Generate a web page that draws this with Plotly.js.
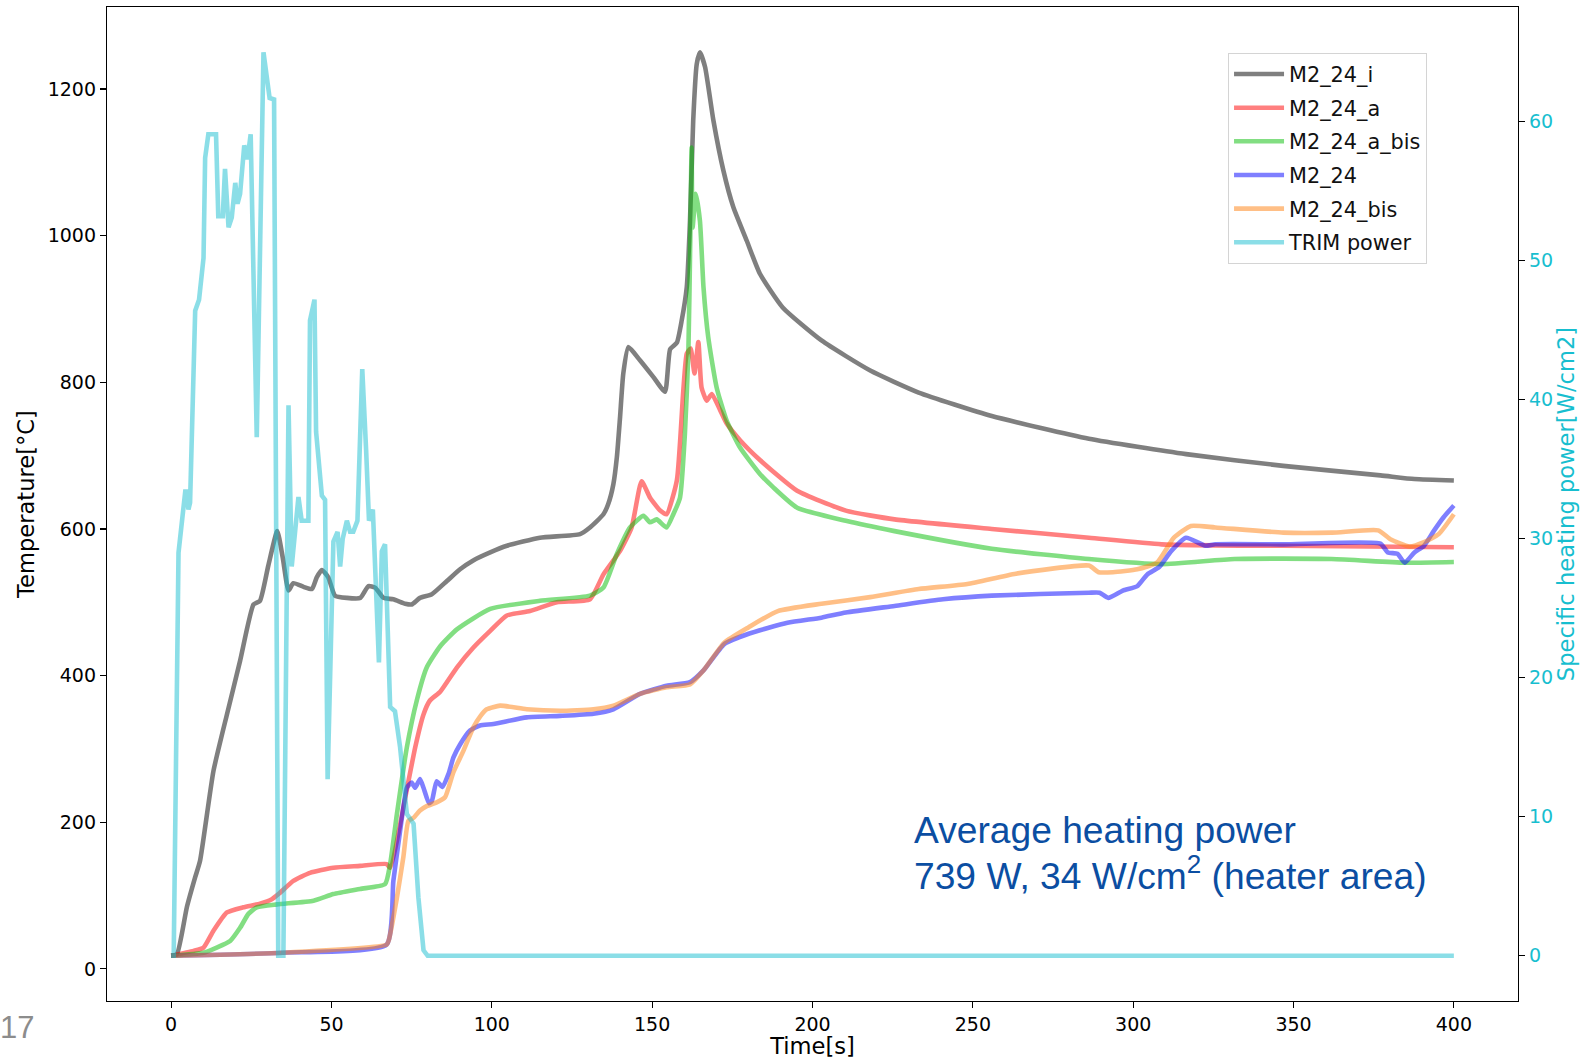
<!DOCTYPE html>
<html>
<head>
<meta charset="utf-8">
<script src="https://cdn.plot.ly/plotly-3.0.1.min.js"></script>
<style>html,body{margin:0;padding:0;background:#fff;}#chart{width:1581px;height:1059px;}</style>
</head>
<body>
<div id="chart"></div>
<script>
// ---- data ----
const seriesNames = ["M2_24_i", "M2_24_a", "M2_24_a_bis", "M2_24", "M2_24_bis", "TRIM power"];

const tI = [0, 1.8, 4.9, 7.5, 9.0, 13.2, 17.4, 21.5, 25.7, 27.7, 30.3, 33.1, 34.8, 36.6, 38.1, 41.3, 43.9, 45.4, 47.0, 49.0, 51.1, 54.8, 59.0, 61.5, 63.6, 66.2, 69.3, 73.0, 75.0, 77.6, 81.3, 86.0, 90.1, 94.2, 99.5, 104.7, 115, 127.5, 130.6, 134.8, 136.3, 137.9, 139.0, 140.0, 141.0, 142.6, 146.2, 150.4, 154.0, 155.6, 157.7, 159.2, 160.8, 161.8, 162.8, 163.9, 164.9, 166.5, 169.1, 172.2, 175.3, 179.5, 183.6, 190.7, 202.8, 218, 233.1, 255.9, 286.2, 316.5, 346.8, 377.1, 387.7, 400];
const vI = [18, 20, 84, 125, 147, 270, 347, 420, 497, 502, 550, 597, 561, 516, 526, 521, 518, 534, 544, 534, 509, 506, 506, 522, 520, 506, 504, 498, 497, 506, 511, 529, 545, 557, 568, 577, 588, 593, 602, 620, 634, 661, 698, 753, 812, 848, 830, 807, 787, 845, 854, 884, 930, 1020, 1157, 1234, 1250, 1230, 1157, 1089, 1039, 993, 948, 902, 857, 816, 786, 754, 723, 702, 686, 673, 668, 666];

const tA = [0, 7.0, 10.1, 13.2, 17.4, 22.5, 27.7, 31.4, 34.0, 38.1, 43.3, 50.6, 58.9, 67.2, 68.3, 74.0, 76.1, 78.7, 80.7, 83.9, 89.1, 94.2, 99.5, 104.7, 111.9, 120.3, 130.6, 134.8, 140.0, 143.6, 146.7, 149.3, 152.5, 154.5, 157.7, 159.7, 160.8, 162.0, 163.2, 164.4, 165.4, 167.0, 168.6, 171.2, 173.2, 177.4, 183.6, 195.2, 210.4, 225.6, 255.9, 286.2, 308.9, 346.8, 400];
const vA = [18, 24.6, 29, 52, 77, 84, 89, 95, 104, 120, 131, 138, 140.5, 143, 138, 256, 302, 347, 366, 378, 411, 438, 461, 482, 488, 500, 504, 538, 570, 602, 665, 643, 625, 620, 666, 788, 839, 846, 812, 855, 793, 775, 784, 762, 744, 721, 694, 652, 625, 613, 600, 588, 579, 577, 575];

const tAb = [0, 10.1, 14.2, 18.4, 21.5, 24.1, 26.7, 33.0, 44.4, 50.6, 58.9, 66.7, 68.3, 70.4, 73.5, 76.6, 79.7, 83.9, 89.1, 99.5, 115, 130.6, 134.8, 139.0, 143.1, 147.3, 149.3, 151.4, 154.5, 156.6, 158.7, 160.2, 161.3, 161.9, 162.3, 162.6, 163.6, 164.9, 166.0, 167.5, 170.1, 173.2, 177.4, 183.6, 187.7, 195.2, 210.4, 225.6, 255.9, 286.2, 308.9, 331.6, 361.9, 384.7, 400];
const vAb = [18, 22, 29, 38, 56, 75, 84, 88, 93, 102, 109, 115.5, 143, 211, 302, 366, 411, 440, 463, 491, 502, 509, 520, 566, 602, 618, 609, 613, 602, 620, 643, 729, 843, 1000, 1120, 1011, 1057, 1020, 930, 861, 793, 748, 711, 675, 657, 629, 611, 597, 573, 559, 552, 559, 559, 554, 555];

const tM = [0, 34.8, 67.2, 69.3, 71.4, 73.5, 75.0, 76.1, 77.6, 78.7, 80.4, 81.3, 82.8, 84.6, 86.5, 88.0, 90.1, 93.2, 96.3, 100.5, 110.9, 121.3, 131.7, 137.9, 146.2, 154.5, 161.8, 166.0, 172.5, 180.1, 192.2, 202.8, 210.4, 225.6, 240.7, 255.9, 286.2, 289.5, 292.2, 296.8, 301.3, 304.4, 308.1, 311.9, 316.5, 322.5, 325.6, 346.8, 377.1, 379.4, 382.4, 384.7, 387.7, 390.7, 393.7, 396.8, 400];
const vM = [18, 22, 33, 120, 188, 247, 254, 247, 259, 247, 226, 229, 256, 248, 266, 288, 306, 325, 332, 334, 343, 345, 348, 354, 375, 386, 391, 407, 443, 457, 472, 479, 486, 495, 504, 509, 513, 513, 506, 516, 522, 538, 548, 570, 588, 577, 579, 579, 580, 568, 566, 554, 568, 577, 597, 616, 632];

const tMb = [0, 34.8, 67.2, 67.8, 70.4, 72.4, 74.0, 75.6, 77.6, 79.7, 82.8, 85.4, 88.0, 91.1, 94.2, 96.5, 98.4, 102.6, 110.9, 121.3, 131.7, 137.9, 146.2, 154.5, 161.8, 166.0, 172.5, 180.1, 189.2, 202.8, 218, 233.1, 248.3, 263.4, 286.2, 289.2, 293.7, 301.3, 307.4, 312.7, 318.0, 325.6, 346.8, 362, 376.4, 380.2, 386.2, 390.7, 395.3, 400];
const vMb = [18, 22, 33, 38, 97, 152, 202, 206, 216, 222, 227, 234, 268, 297, 329, 345, 354, 359, 354, 352, 354, 359, 375, 384, 388, 407, 445, 466, 488, 498, 507, 518, 525, 539, 550, 541, 541, 545, 554, 588, 604, 602, 595, 595, 598, 586, 576, 582, 593, 620];

const tTrim = [0, 0.8, 2.3, 3.3, 4.4, 4.8, 5.4, 5.9, 7.5, 8.7, 10.1, 10.6, 11.6, 14.0, 14.7, 16.1, 16.8, 17.9, 18.9, 20.0, 20.7, 21.5, 22.8, 23.8, 24.8, 26.7, 28.8, 30.7, 32.1, 33.4, 35.0, 36.6, 37.6, 39.7, 40.7, 42.8, 43.3, 44.7, 45.2, 47.0, 48.0, 48.8, 50.6, 51.9, 52.7, 53.5, 54.8, 55.8, 56.8, 58.1, 59.6, 60.8, 61.7, 62.9, 64.8, 65.7, 66.7, 68.3, 69.8, 71.4, 73.5, 75.6, 77.1, 78.7, 80.0, 400];
const pTrim = [0, 0, 29, 31.3, 33.4, 33.4, 32.1, 32.6, 46.4, 47.2, 50.2, 57.4, 59.1, 59.1, 53.2, 53.2, 56.6, 52.4, 53.1, 55.6, 54.1, 54.8, 58.3, 57.3, 59.1, 37.3, 65.0, 61.7, 61.6, 0, 0, 39.6, 28.0, 33.0, 31.3, 31.3, 45.7, 47.2, 37.7, 33.1, 32.8, 12.7, 29.8, 30.5, 28.0, 30.0, 31.3, 30.5, 30.5, 31.3, 42.2, 36.4, 31.3, 32.1, 21.1, 29.1, 29.6, 17.9, 17.6, 15.0, 10.2, 9.5, 4.2, 0.4, 0, 0];

const xTicks = [0, 50, 100, 150, 200, 250, 300, 350, 400];
const yTicks = [0, 200, 400, 600, 800, 1000, 1200];
const y2Ticks = [0, 10, 20, 30, 40, 50, 60];

// ---- drawing ----
const colors = ["rgba(0,0,0,0.5)", "rgba(255,0,0,0.5)", "rgba(5,190,5,0.5)", "rgba(0,0,255,0.5)", "rgba(255,127,14,0.5)", "rgba(23,190,207,0.5)"];
const xs = [tI, tA, tAb, tM, tMb, tTrim];
const ys = [vI, vA, vAb, vM, vMb, pTrim];

const traces = seriesNames.map((name, i) => ({
  type: "scatter", mode: "lines", name: name,
  x: xs[i], y: ys[i],
  yaxis: i === 5 ? "y2" : "y",
  legendgroup: "g" + i,
  line: i === 5 ? {color: colors[i], width: 4.6}
                : {color: colors[i], width: 4.6, shape: "spline", smoothing: 0.5},
  hoverinfo: "skip"
}));

const axisCommon = {
  ticks: "outside", ticklen: 6, tickwidth: 1.2, tickcolor: "#000",
  showline: true, linecolor: "#000", linewidth: 1.2,
  showgrid: false, zeroline: false
};

const layout = {
  width: 1581, height: 1059,
  margin: {l: 107, r: 63, t: 7, b: 58, pad: 0},
  paper_bgcolor: "#fff", plot_bgcolor: "#fff",
  font: {family: "DejaVu Sans", color: "#000", size: 19},
  xaxis: Object.assign({}, axisCommon, {
    range: [-20, 420], tickvals: xTicks, mirror: true,
    tickfont: {size: 19, color: "#000"},
    title: {text: "Time[s]", font: {size: 22.6}, standoff: 2}
  }),
  yaxis: Object.assign({}, axisCommon, {
    range: [-43.8, 1311.8], tickvals: yTicks,
    tickfont: {size: 19, color: "#000"},
    title: {text: "Temperature[°C]", font: {size: 22.6}, standoff: 6}
  }),
  yaxis2: Object.assign({}, axisCommon, {
    overlaying: "y", side: "right",
    range: [-3.25, 68.25], tickvals: y2Ticks,
    tickfont: {size: 19, color: "#17becf"},
    title: {text: "Specific heating power[W/cm2]", font: {size: 22.6, color: "#17becf"}, standoff: 1}
  }),
  showlegend: true,
  legend: {
    x: 0.7945, y: 0.9537, xanchor: "left", yanchor: "top",
    bgcolor: "rgba(255,255,255,0.8)", bordercolor: "#d4d4d4", borderwidth: 1,
    font: {size: 20.8, color: "#111"}, tracegroupgap: 3.6, itemwidth: 50,
    entrywidthmode: "pixels", entrywidth: 138
  },
  annotations: [
    {xref: "paper", yref: "paper", x: 0.5703, y: 0.172, xanchor: "left", yanchor: "middle",
     text: "Average heating power", showarrow: false,
     font: {family: "Liberation Sans, Arial, sans-serif", size: 37.2, color: "#0b4ea2"}},
    {xref: "paper", yref: "paper", x: 0.5703, y: 0.1288, xanchor: "left", yanchor: "middle",
     text: "739 W, 34 W/cm<sup>2</sup> (heater area)", showarrow: false,
     font: {family: "Liberation Sans, Arial, sans-serif", size: 37.2, color: "#0b4ea2"}},
    {xref: "paper", yref: "paper", x: -0.0775, y: -0.0262, xanchor: "left", yanchor: "middle",
     text: "17", showarrow: false,
     font: {family: "Liberation Sans, Arial, sans-serif", size: 31, color: "#8c8c8c"}}
  ]
};

Plotly.newPlot("chart", traces, layout, {displayModeBar: false, staticPlot: true});
</script>
</body>
</html>
